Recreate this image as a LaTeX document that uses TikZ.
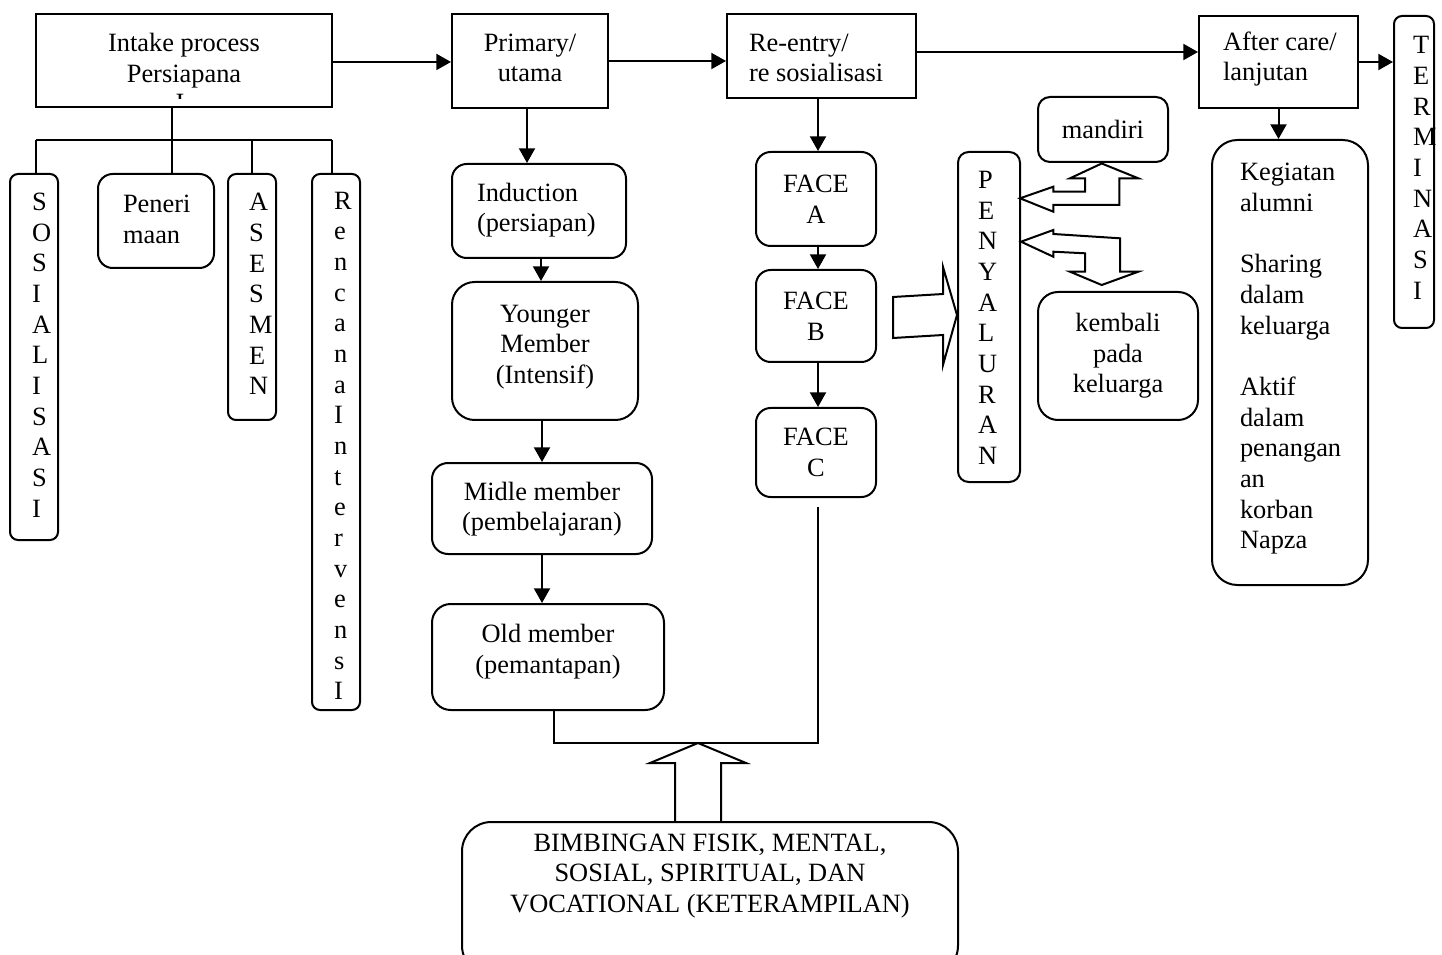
\documentclass[tikz,border=0pt]{standalone}
\usepackage{fontspec}
\setmainfont{Liberation Serif}
\usetikzlibrary{arrows.meta,calc}
\newcommand{\dfont}{\fontsize{19.8pt}{23pt}\selectfont}
\begin{document}
\begin{tikzpicture}[x=0.75pt,y=-0.75pt, line width=1.5pt,
  box/.style={draw, inner sep=0pt, font=\dfont, align=center},
  wh/.style 2 args={minimum width=#1*0.75pt, minimum height=#2*0.75pt},
  txt/.style={inner sep=0pt, font=\dfont, align=left},
  arr/.style={-{Triangle[length=11pt,width=12pt]}},
  hollow/.style={draw, line width=1.5pt, line join=miter}]
\useasboundingbox (0,0) rectangle (1442,955);
\fill[white] (0,0) rectangle (1442,955);

% ---- top row ----
\node[box,wh={296}{93}] (intake) at (184,60.5) {Intake process\\Persiapana};
\begin{scope}
  \clip (160,88) rectangle (210,98.5);
  \node[txt,anchor=base] (intakeI) at (180,112) {I};
\end{scope}
\node[box,wh={156}{94}] (primary) at (530,61) {};
\node[txt,align=center] (primaryT) at (530,58) {Primary/\\utama};
\node[box,wh={189}{84}] (reentry) at (821.5,56) {};
\node[txt,anchor=west] (reentryT) at (748,58) {Re-entry/\\re sosialisasi};
\node[box,wh={159}{92}] (after) at (1278.5,62) {};
\node[txt,anchor=west] (afterT) at (1222,59) {After care/\\lanjutan};
\node[box,rounded corners=6pt,wh={40}{312}] (term) at (1414,172) {};
\node[txt,anchor=west] (termT) at (1412,168) {T\\E\\R\\M\\I\\N\\A\\S\\I};
\node[box,rounded corners=19pt,wh={156}{445}] (keg) at (1290,362.5) {};
\node[txt,anchor=west] (kegT) at (1239,359)
  {Kegiatan\\alumni\\[23pt]Sharing\\dalam\\keluarga\\[23pt]Aktif\\dalam\\penangan\\an\\korban\\Napza};

% ---- left tree ----
\node[box,rounded corners=6pt,wh={48}{366}] (sos) at (34,357) {};
\node[txt,anchor=west] (sosT) at (31,355) {S\\O\\S\\I\\A\\L\\I\\S\\A\\S\\I};
\node[box,rounded corners=11pt,wh={116}{94}] (pener) at (156,221) {};
\node[txt,anchor=west] (penerT) at (122,219.5) {Peneri\\maan};
\node[box,rounded corners=6pt,wh={48}{246}] (ases) at (252,297) {};
\node[txt,anchor=west] (asesT) at (248,294) {A\\S\\E\\S\\M\\E\\N};
\node[box,rounded corners=6pt,wh={48}{536}] (renc) at (336,442) {};
\node[txt,anchor=west] (rencT) at (333,446) {R\\e\\n\\c\\a\\n\\a\\I\\n\\t\\e\\r\\v\\e\\n\\s\\I};

\coordinate (tj) at (172,140);
\coordinate (b1) at (36,140);
\coordinate (b4) at (332,140);
\draw (intake.south -| tj) -- (tj);
\draw (b1) -- (b4);
\draw (b1) -- (b1 |- sos.north);
\draw (tj) -- (tj |- pener.north);
\draw (tj -| ases.north) -- (ases.north);
\draw (b4) -- (b4 |- renc.north);

% ---- primary column ----
\node[box,rounded corners=11pt,wh={174}{94}] (induct) at (539,211) {};
\node[txt,anchor=west] (inductT) at (476,210) {Induction\\(persiapan)};
\node[box,rounded corners=17pt,wh={186}{138}] (young) at (545,351) {};
\node[txt,align=center] (youngT) at (545,347) {Younger\\Member\\(Intensif)};
\node[box,rounded corners=12pt,wh={220}{91}] (midle) at (542,508.5) {};
\node[txt,align=center] (midleT) at (542,509) {Midle member\\(pembelajaran)};
\node[box,rounded corners=14pt,wh={232}{106}] (old) at (548,657) {};
\node[txt,align=center] (oldT) at (548,651.5) {Old member\\(pemantapan)};

% ---- re-entry column ----
\node[box,rounded corners=11pt,wh={120}{94}] (facea) at (816,199) {FACE\\A};
\node[box,rounded corners=11pt,wh={120}{92}] (faceb) at (816,316) {FACE\\B};
\node[box,rounded corners=11pt,wh={120}{89}] (facec) at (816,452.5) {FACE\\C};

% ---- penyaluran ----
\node[box,rounded corners=8pt,wh={62}{330}] (peny) at (989,317) {};
\node[txt,anchor=west] (penyT) at (977,318) {P\\E\\N\\Y\\A\\L\\U\\R\\A\\N};
\node[box,rounded corners=9pt,wh={130}{65}] (mandiri) at (1103,129.5) {mandiri};
\node[box,rounded corners=15pt,wh={160}{128}] (kembali) at (1118,356) {kembali\\pada\\keluarga};

% ---- bottom ----
\node[box,rounded corners=22pt,wh={496}{153}] (bimb) at (710,898.5) {};
\node[txt,align=center] (bimbT) at (710,876) {BIMBINGAN FISIK, MENTAL,\\SOSIAL, SPIRITUAL, DAN\\VOCATIONAL (KETERAMPILAN)};

% ---- connectors ----
\draw[arr] ([yshift=-1.1pt]intake.east) -- ([yshift=-1.1pt]intake.east -| primary.west);
\draw[arr] (primary.east) -- (primary.east -| reentry.west);
\draw[arr] ([yshift=3pt]reentry.east) -- ([yshift=3pt]reentry.east -| after.west);
\draw[arr] (after.east) -- (after.east -| term.west);
\draw[arr] (after.south) -- (after.south |- keg.north);

\draw[arr] ($(primary.south)+(-3,0)$) -- ($(primary.south |- induct.north)+(-3,0)$);
\draw[arr] ($(induct.south)+(2,0)$) -- ($(induct.south |- young.north)+(2,0)$);
\draw[arr] (midle.north |- young.south) -- (midle.north);
\draw[arr] (midle.south) -- (midle.south |- old.north);

\draw[arr] ($(facea.north |- reentry.south)+(2,0)$) -- ($(facea.north)+(2,0)$);
\draw[arr] ($(facea.south)+(2,0)$) -- ($(faceb.north)+(2,0)$);
\draw[arr] ($(faceb.south)+(2,0)$) -- ($(facec.north)+(2,0)$);

\coordinate (bj) at (818,743);
\coordinate (fcend) at (818,507);
\draw ($(old.south)+(6,0)$) |- (bj) -- (fcend);

% hollow up arrow (bimbingan -> bracket)
\coordinate (uptip) at (698,743);
\draw[hollow] (675,0 |- bimb.north) -- (675,763) -- (650,763) -- (uptip)
  -- (746,763) -- (721,763) -- (721,0 |- bimb.north);

% hollow right arrow (FACE B -> PENYALURAN)
\coordinate (rtip) at (peny.west |- 0,315);
\draw[hollow] (893,297) -- (943,294) -- (943,267) -- (rtip) -- (943,365)
  -- (943,335) -- (893,338) -- cycle;

% double bent arrow penyaluran <-> mandiri
\draw[hollow] (1020,198.3) -- (1053.3,186.7) -- (1053.3,191.7) -- (1085,191.7)
  -- (1085,178.3) -- (1070,178.3) -- (1101.7,163.5) -- (1138.3,178.3)
  -- (1119.3,178.3) -- (1119.3,205) -- (1053.3,205) -- (1053.3,211.7) -- cycle;

% double bent arrow penyaluran <-> kembali
\draw[hollow] (1021,241.7) -- (1053.3,230) -- (1053.3,234) -- (1120,238.3)
  -- (1120,271.7) -- (1138.3,271.7) -- (1101.7,285) -- (1070,271.7)
  -- (1085,271.7) -- (1085,253.3) -- (1053.3,251.7) -- (1053.3,256.7) -- cycle;
\end{tikzpicture}
\end{document}
